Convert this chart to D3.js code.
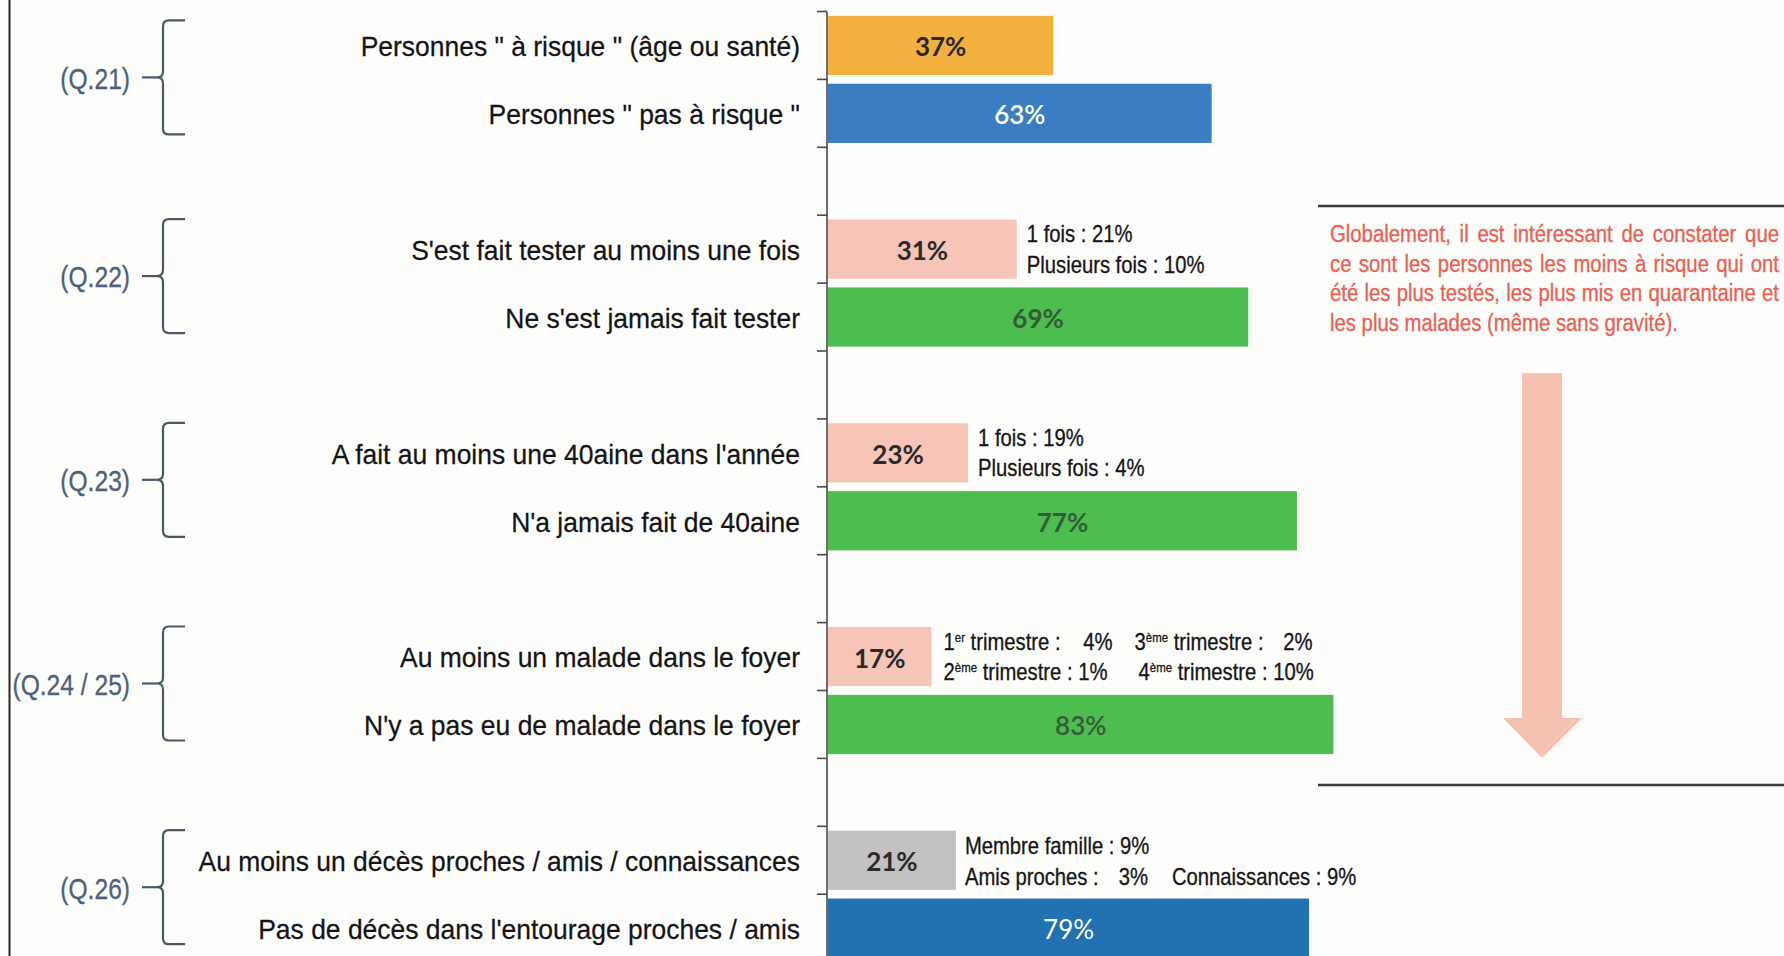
<!DOCTYPE html>
<html><head><meta charset="utf-8">
<script src="https://cdn.jsdelivr.net/npm/d3@7"></script>
<style>
html,body{margin:0;padding:0;background:#fdfdfc;}
svg{display:block;}
</style></head>
<body>
<svg id="chart" width="1784" height="956"></svg>
<script>
// ---------- DATA ----------
const categories = [
  "Personnes \" à risque \" (âge ou santé)",
  "Personnes \" pas à risque \"",
  "S'est fait tester au moins une fois",
  "Ne s'est jamais fait tester",
  "A fait au moins une 40aine dans l'année",
  "N'a jamais fait de 40aine",
  "Au moins un malade dans le foyer",
  "N'y a pas eu de malade dans le foyer",
  "Au moins un décès proches / amis / connaissances",
  "Pas de décès dans l'entourage proches / amis"
];
const values = [37, 63, 31, 69, 23, 77, 17, 83, 21, 79];
const groupLabels = ["(Q.21)", "(Q.22)", "(Q.23)", "(Q.24 / 25)", "(Q.26)"];
const testLabels = ["1 fois", "Plusieurs fois"];
const testValues = [21, 10];
const quarantineLabels = ["1 fois", "Plusieurs fois"];
const quarantineValues = [19, 4];
const quarterNums = ["1", "2", "3", "4"];
const quarterSups = ["er", "ème", "ème", "ème"];
const quarterValues = [4, 1, 2, 10];
const deathLabels = ["Membre famille", "Amis proches", "Connaissances"];
const deathValues = [9, 3, 9];
const noteLines = [
  "Globalement, il est intéressant de constater que",
  "ce sont les personnes les moins à risque qui ont",
  "été les plus testés, les plus mis en quarantaine et",
  "les plus malades (même sans gravité)."
];

// ---------- STYLES ----------
const barColors = ["#f2b13f", "#3b7dc3", "#f6c5b7", "#4dbd4f", "#f6c5b7", "#4dbd4f", "#f6c5b7", "#4dbd4f", "#c2c2c2", "#2272b2"];
const valueFill = ["#2a2a2a", "#ffffff", "#2a2a2a", "#345c38", "#2a2a2a", "#345c38", "#2a2a2a", "#345c38", "#2a2a2a", "#ffffff"];
const valueWeight = [700, 600, 700, 700, 700, 700, 700, 600, 700, 400];
const SANS = '"Liberation Sans", Arial, sans-serif';
const CAL = 'Lato, "Open Sans", sans-serif';

const W = 1784, H = 956;
const svg = d3.select("#chart");
svg.append("rect").attr("width", W).attr("height", H).attr("fill", "#fdfdfc");

// slots: two bars per group, a gap between groups
const slots = [];
groupLabels.forEach((g, i) => {
  slots.push("c" + (2 * i), "c" + (2 * i + 1));
  if (i < groupLabels.length - 1) slots.push("gap" + i);
});
const y = d3.scaleBand().domain(slots).range([11.5, 11.5 + slots.length * 67.9])
  .paddingInner(0.128).paddingOuter(0.064);
const x = d3.scaleLinear().domain([0, 100]).range([828, 1437]);

function txt(parent, px, py, str, o) {
  const t = parent.append("text")
    .attr("transform", `translate(${px},${py}) scale(${o.sx || 1},1)`)
    .attr("font-family", o.ff || SANS)
    .attr("font-size", o.fs)
    .attr("fill", o.fill || "#151515")
    .attr("text-anchor", o.anchor || "start");
  if (o.weight) t.attr("font-weight", o.weight);
  if (o.db) t.attr("dominant-baseline", o.db);
  if (o.stroke) t.attr("stroke", o.fill || "#151515").attr("stroke-width", o.stroke);
  if (str !== null) t.text(str);
  return t;
}

// left border
svg.append("line").attr("x1", 9.5).attr("x2", 9.5).attr("y1", 0).attr("y2", H)
  .attr("stroke", "#262626").attr("stroke-width", 2);

// axis line + ticks at slot boundaries
const axisX = x(0) - 1;
const halfGap = y.step() * y.paddingInner() / 2;
const boundaries = slots.map(s => y(s) - halfGap);
svg.append("line").attr("x1", axisX).attr("x2", axisX).attr("y1", boundaries[0]).attr("y2", H)
  .attr("stroke", "#4a4a4a").attr("stroke-width", 1.6);
svg.selectAll(".tick").data(boundaries).join("line")
  .attr("x1", axisX - 10).attr("x2", axisX).attr("y1", d => d).attr("y2", d => d)
  .attr("stroke", "#4a4a4a").attr("stroke-width", 1.6);

// bars
const rows = values.map((v, i) => ({ v, i, key: "c" + i, cat: categories[i] }));
svg.selectAll(".bar").data(rows).join("rect")
  .attr("x", x(0)).attr("y", d => y(d.key))
  .attr("width", d => x(d.v) - x(0)).attr("height", y.bandwidth())
  .attr("fill", d => barColors[d.i]);

// value labels
rows.forEach(d => {
  txt(svg, (x(0) + x(d.v)) / 2, y(d.key) + y.bandwidth() / 2 + 1, d.v + "%",
    { ff: CAL, fs: 26, anchor: "middle", db: "central", fill: valueFill[d.i], weight: valueWeight[d.i] });
});

// category labels
rows.forEach(d => {
  txt(svg, 800, y(d.key) + y.bandwidth() / 2 + 1, d.cat,
    { fs: 28, sx: 0.945, anchor: "end", db: "central", fill: "#141414", stroke: 0.25 });
});

// group labels + braces
groupLabels.forEach((g, i) => {
  const top = y("c" + (2 * i)), bot = y("c" + (2 * i + 1)) + y.bandwidth();
  const mid = (top + bot) / 2 - (i === 0 ? 2 : 7);
  const t0 = mid - 57, b0 = mid + 57;
  txt(svg, 130, mid + 1, g, { fs: 30, sx: 0.82, anchor: "end", db: "central", fill: "#4d6178", stroke: 0.3 });
  const bx = 163, r = 6;
  const p = `M185,${t0} L${bx + r},${t0} Q${bx},${t0} ${bx},${t0 + r} L${bx},${mid - r} Q${bx},${mid} ${bx - 6},${mid} ` +
            `Q${bx},${mid} ${bx},${mid + r} L${bx},${b0 - r} Q${bx},${b0} ${bx + r},${b0} L185,${b0}`;
  svg.append("path").attr("d", p).attr("fill", "none").attr("stroke", "#4a5868").attr("stroke-width", 2.2);
  svg.append("line").attr("x1", 142).attr("x2", bx - 6).attr("y1", mid).attr("y2", mid)
    .attr("stroke", "#4a5868").attr("stroke-width", 2.2);
});

// detail annotations
const AF = 23, ASX = 0.88, AST = 0.3;
function twoLines(idx, labels, vals) {
  const x0 = x(values[idx]) + 10;
  const c = y("c" + idx) + y.bandwidth() / 2;
  txt(svg, x0, c - 7, `${labels[0]} : ${vals[0]}%`, { fs: AF, sx: ASX, stroke: AST });
  txt(svg, x0, c + 23.5, `${labels[1]} : ${vals[1]}%`, { fs: AF, sx: ASX, stroke: AST });
}
twoLines(2, testLabels, testValues);
twoLines(4, quarantineLabels, quarantineValues);

// quarters
(function () {
  const idx = 6;
  const x0 = x(values[idx]) + 12;
  const c = y("c" + idx) + y.bandwidth() / 2;
  function ord(px, py, k, tail) {
    const t = txt(svg, px, py, null, { fs: AF, sx: ASX, stroke: AST });
    t.append("tspan").text(quarterNums[k]);
    t.append("tspan").attr("font-size", 13).attr("dy", -8).text(quarterSups[k]);
    t.append("tspan").attr("dy", 8).text(tail);
  }
  ord(x0, c - 7, 0, " trimestre :");
  txt(svg, x0 + 169, c - 7, quarterValues[0] + "%", { fs: AF, sx: ASX, anchor: "end", stroke: AST });
  ord(x0 + 191, c - 7, 2, " trimestre :");
  txt(svg, x0 + 369, c - 7, quarterValues[2] + "%", { fs: AF, sx: ASX, anchor: "end", stroke: AST });
  ord(x0, c + 23.5, 1, ` trimestre : ${quarterValues[1]}%`);
  ord(x0 + 195, c + 23.5, 3, ` trimestre : ${quarterValues[3]}%`);
})();

// deaths
(function () {
  const idx = 8;
  const x0 = x(values[idx]) + 9;
  const c = y("c" + idx) + y.bandwidth() / 2;
  txt(svg, x0, c - 6, `${deathLabels[0]} : ${deathValues[0]}%`, { fs: AF, sx: ASX, stroke: AST });
  txt(svg, x0, c + 24.5, `${deathLabels[1]} :`, { fs: AF, sx: ASX, stroke: AST });
  txt(svg, x0 + 183, c + 24.5, deathValues[1] + "%", { fs: AF, sx: ASX, anchor: "end", stroke: AST });
  txt(svg, x0 + 207, c + 24.5, `${deathLabels[2]} : ${deathValues[2]}%`, { fs: AF, sx: ASX, stroke: AST });
})();

// note box
svg.append("line").attr("x1", 1318).attr("x2", W).attr("y1", 206).attr("y2", 206)
  .attr("stroke", "#3a3a3a").attr("stroke-width", 2.5);
svg.append("line").attr("x1", 1318).attr("x2", W).attr("y1", 785).attr("y2", 785)
  .attr("stroke", "#3a3a3a").attr("stroke-width", 2.5);

const NF = 24.5, NSX = 0.83, NX0 = 1330, NX1 = 1779, NRED = "#ec5f52";
noteLines.forEach((line, li) => {
  const by = 242 + li * 29.7;
  if (li === noteLines.length - 1) {
    txt(svg, NX0, by, line, { fs: NF, sx: NSX, fill: NRED, stroke: 0.35 });
    return;
  }
  const words = line.split(" ");
  const nodes = words.map(w => txt(svg, 0, by, w, { fs: NF, sx: NSX, fill: NRED, stroke: 0.35 }));
  const widths = nodes.map(n => n.node().getComputedTextLength() * NSX);
  const total = d3.sum(widths);
  const gap = (NX1 - NX0 - total) / (words.length - 1);
  let cx = NX0;
  nodes.forEach((n, k) => {
    n.attr("transform", `translate(${cx},${by}) scale(${NSX},1)`);
    cx += widths[k] + gap;
  });
});

// arrow
svg.append("path")
  .attr("d", "M1522,373 L1562,373 L1562,718 L1582,718 L1542,758 L1503,718 L1522,718 Z")
  .attr("fill", "#f5c1b1");
</script>
</body></html>
